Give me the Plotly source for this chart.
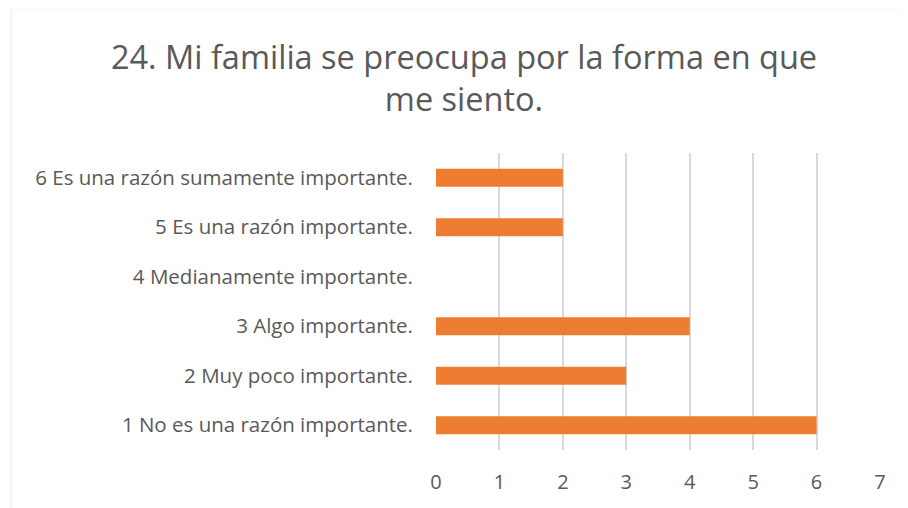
import plotly.graph_objects as go

categories = ["1 No es una razón importante.",
              "2 Muy poco importante.",
              "3 Algo importante.",
              "4 Medianamente importante.",
              "5 Es una razón importante.",
              "6 Es una razón sumamente importante."]
counts = [6, 3, 4, 0, 2, 2]
x_ticks = [0, 1, 2, 3, 4, 5, 6, 7]

title_text = "24. Mi familia se preocupa por la forma en que<br>me siento."

fig = go.Figure()
fig.add_trace( go.Bar( x=counts, y=categories, orientation="h",
                       marker={ "color" : "#ED7D31", "line" : { "width" : 0 } } ) )

fig.update_xaxes( range=[0, 7], tickvals=x_ticks, showgrid=True, gridcolor="#d9d9d9", gridwidth=1.6,
                  zeroline=False, showline=False, ticks="",
                  tickfont={ "size" : 20, "color" : "#595959" }, ticklabelstandoff=18 )
fig.update_yaxes( showgrid=False, zeroline=False, showline=False, ticks="",
                  tickfont={ "size" : 20.5, "color" : "#595959" }, ticklabelstandoff=22 )

# chart area border (left and top edges are visible, the rest is cropped)
fig.add_shape( type="line", xref="paper", yref="paper", x0=-0.956, x1=1.2, y0=1.49, y1=1.49,
               line={ "color" : "#d9d9d9", "width" : 2 } )
fig.add_shape( type="line", xref="paper", yref="paper", x0=-0.956, x1=-0.956, y0=-0.3, y1=1.49,
               line={ "color" : "#d9d9d9", "width" : 2 } )

fig.update_layout( width=908, height=508,
                   template="simple_white",
                   font={ "family" : "Open Sans", "color" : "#595959" },
                   title={ "text" : title_text, "x" : 456 / 908, "xanchor" : "center",
                           "y" : 0.88, "yanchor" : "top",
                           "font" : { "size" : 32.5, "color" : "#595959" } },
                   bargap=0.64,
                   showlegend=False,
                   plot_bgcolor="white", paper_bgcolor="white",
                   margin={ "l" : 428, "r" : 36, "t" : 145, "b" : 66, "autoexpand" : False } )

fig.write_html( "out.html" )
